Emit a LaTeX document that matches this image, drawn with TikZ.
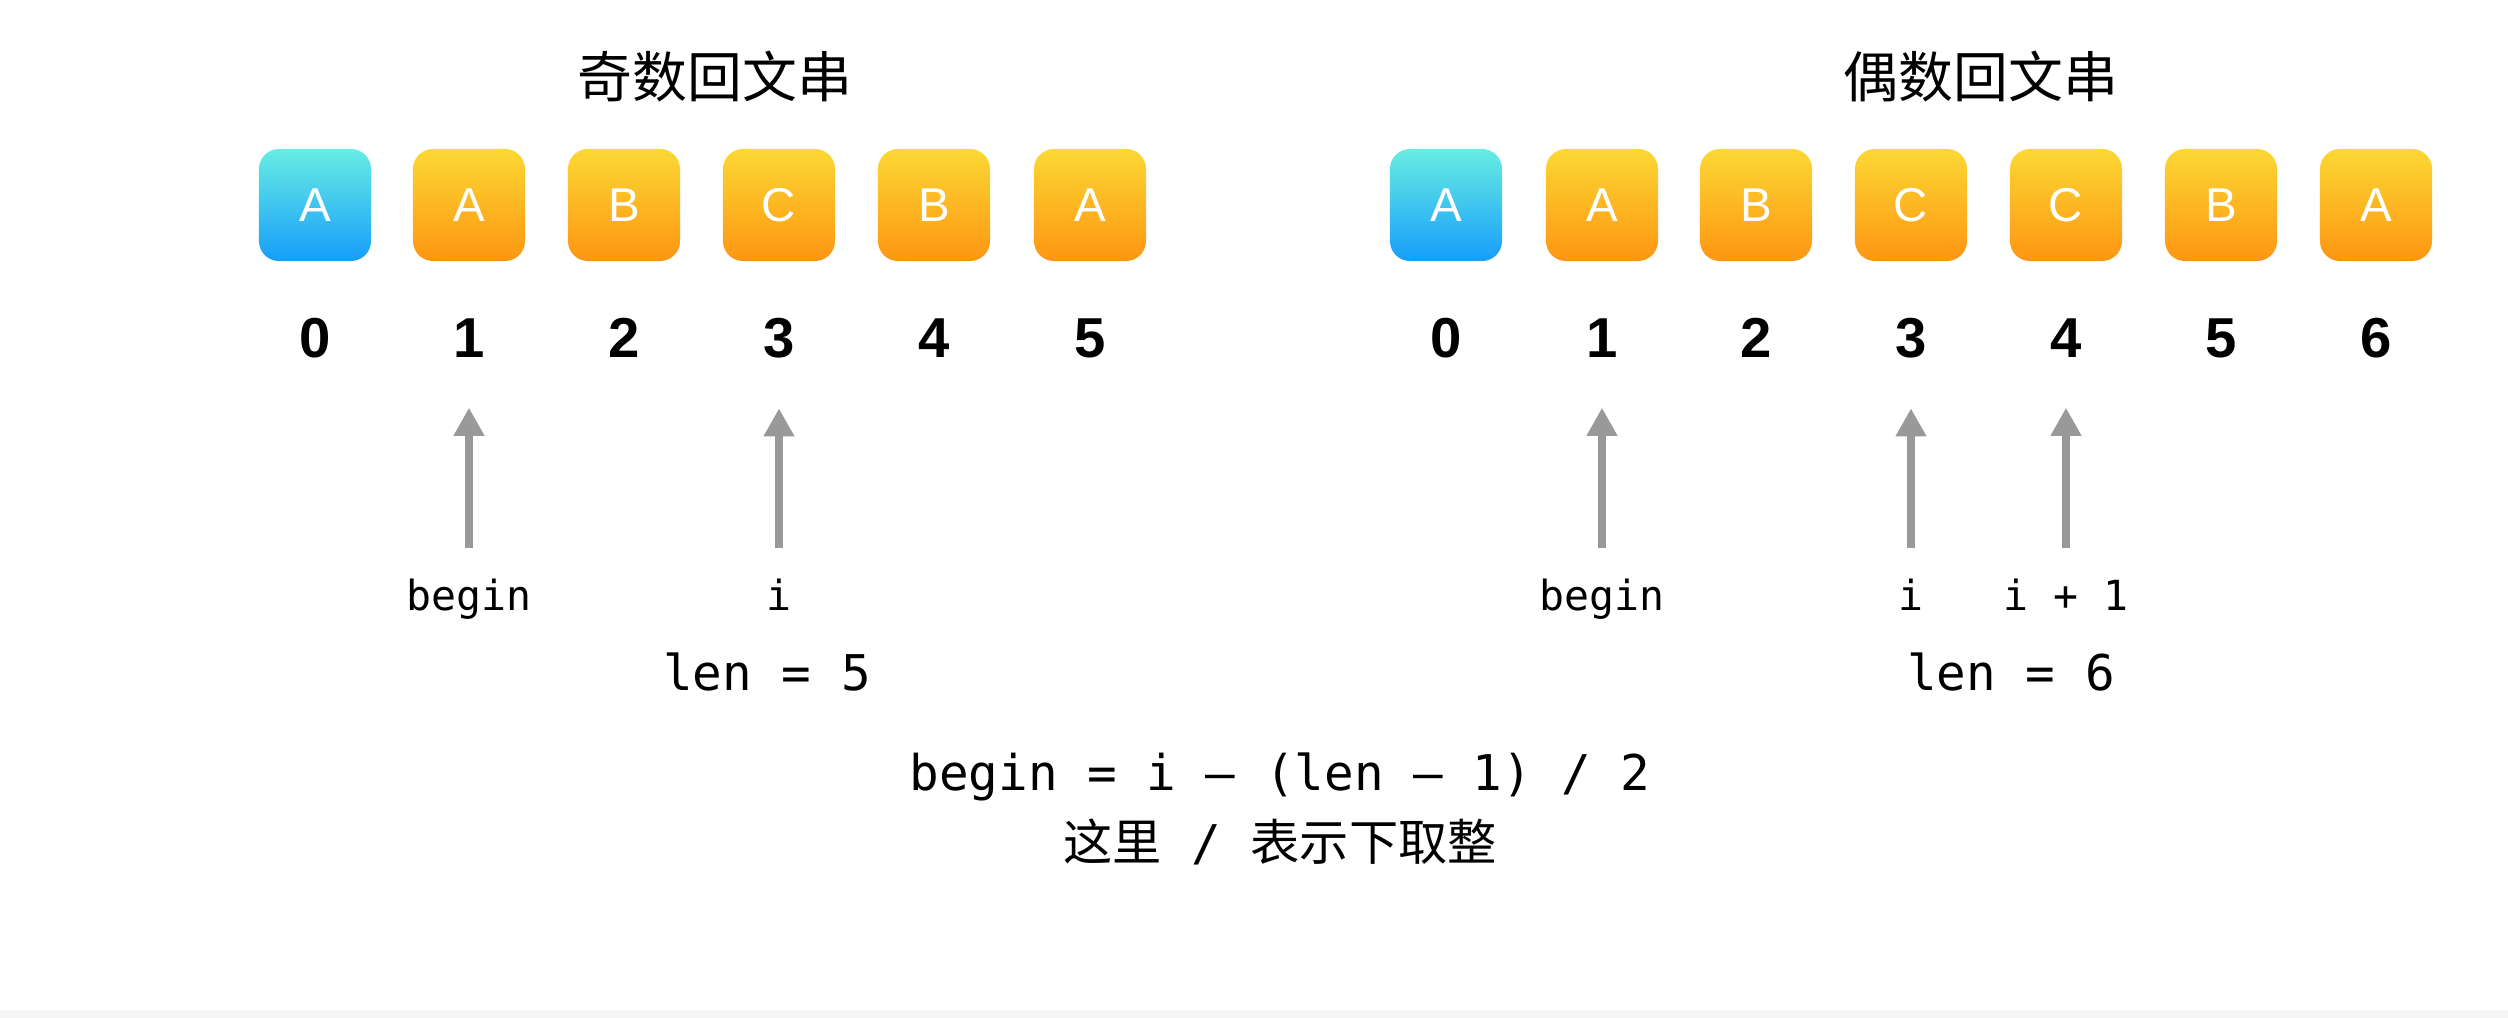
\documentclass[tikz,border=0pt]{standalone}
\usepackage{fontspec}
\setmainfont{Liberation Sans}
\setmonofont{DejaVu Sans Mono}
\newfontfamily\cjk{Noto Sans CJK SC}
\usetikzlibrary{arrows.meta}
\definecolor{cyantop}{RGB}{104,236,228}
\definecolor{bluebot}{RGB}{22,158,250}
\definecolor{yeltop}{RGB}{252,216,52}
\definecolor{orabot}{RGB}{253,150,18}
\definecolor{ptrgray}{RGB}{153,153,153}
\tikzset{
  cell/.style={minimum size=1.12cm, inner sep=0pt, rounded corners=0.2cm, text=white,
    font=\fontsize{13.5}{16}\selectfont},
  bluecell/.style={cell, top color=cyantop, bottom color=bluebot},
  orcell/.style={cell, top color=yeltop, bottom color=orabot},
  idx/.style={anchor=base, inner sep=0pt, font=\fontsize{16}{19}\selectfont\bfseries},
  title/.style={inner sep=0pt, font=\fontsize{15.6}{18}\selectfont\cjk},
  lab/.style={anchor=base, inner sep=0pt, font=\fontsize{11.8}{14}\selectfont\ttfamily},
  note/.style={anchor=base, inner sep=0pt, font=\fontsize{14}{17}\selectfont\ttfamily},
  ptr/.style={-{Triangle[width=0.29cm,length=0.28cm]}, draw=ptrgray, line width=0.08cm,
    shorten <=0.3cm, shorten >=0.5cm}
}
\begin{document}
\begin{tikzpicture}[x=0.01cm,y=-0.01cm]
    \useasboundingbox (0,0) rectangle (2508,1018);
    \fill [white] (0,0) rectangle (2508,1010);
    \fill [black!4] (0,1010) rectangle (2508,1018);

    \node [title] (otitle) at (715,77) {奇数回文串};
    \node [bluecell] (o0) at (315,205) {A};
    \node [orcell] (o1) at (469,205) {A};
    \node [orcell] (o2) at (624,205) {B};
    \node [orcell] (o3) at (779,205) {C};
    \node [orcell] (o4) at (934,205) {B};
    \node [orcell] (o5) at (1090,205) {A};
    \foreach \k/\x in {0/315,1/469,2/624,3/779,4/934,5/1090}
        \node [idx] (on\k) at (\x,357) {\k};

    \node [lab] (obegin) at (469,610) {begin};
    \node [lab] (oi) at (779,610) {i};
    \draw [ptr] (obegin.north) -- (on1.south);
    \draw [ptr] (oi.north) -- (on3.south);
    \node [note] (olen) at (767,690) {len = 5};

    \node [title] (etitle) at (1981,77) {偶数回文串};
    \node [bluecell] (e0) at (1446,205) {A};
    \node [orcell] (e1) at (1602,205) {A};
    \node [orcell] (e2) at (1756,205) {B};
    \node [orcell] (e3) at (1911,205) {C};
    \node [orcell] (e4) at (2066,205) {C};
    \node [orcell] (e5) at (2221,205) {B};
    \node [orcell] (e6) at (2376,205) {A};
    \foreach \k/\x in {0/1446,1/1602,2/1756,3/1911,4/2066,5/2221,6/2376}
        \node [idx] (en\k) at (\x,357) {\k};

    \node [lab] (ebegin) at (1602,610) {begin};
    \node [lab] (ei) at (1911,610) {i};
    \node [lab] (eii) at (2066,610) {i + 1};
    \draw [ptr] (ebegin.north) -- (en1.south);
    \draw [ptr] (ei.north) -- (en3.south);
    \draw [ptr] (eii.north) -- (en4.south);
    \node [note] (elen) at (2011,690) {len = 6};

    \node [note] (formula) at (1280,790) {begin = i – (len – 1) / 2};
    \node [note] (floor) at (1280,860) {{\cjk 这里} / {\cjk 表示下取整}};
\end{tikzpicture}
\end{document}
